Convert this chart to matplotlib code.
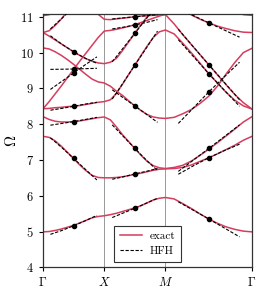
import numpy as np
import matplotlib
matplotlib.use("Agg")
import matplotlib.pyplot as plt

plt.rcParams['font.family'] = 'serif'
plt.rcParams['font.serif'] = ['cmr10', 'DejaVu Serif']
plt.rcParams['mathtext.fontset'] = 'cm'
plt.rcParams['axes.formatter.use_mathtext'] = True

NAN = np.nan
RED = '#d63c5e'

# path coordinate: Gamma-X (1), X-M (1), M-Gamma (sqrt 2)
k_gx = np.linspace(0, 1, 11)
k_xm = np.linspace(1, 2, 11)[1:]
k_mg = np.linspace(2, 2 + np.sqrt(2), 11)[1:]
k = np.concatenate([k_gx, k_xm, k_mg])

tick_pos = [0, 1, 2, 2 + np.sqrt(2)]
tick_lab = [r'$\Gamma$', r'$X$', r'$M$', r'$\Gamma$']

# exact bands (Gamma-X, X-M, M-Gamma)
band_1 = [4.99, 5.00, 5.03, 5.07, 5.12, 5.17, 5.24, 5.31, 5.38, 5.42, 5.44,
          5.47, 5.51, 5.56, 5.61, 5.66, 5.72, 5.80, 5.88, 5.93, 5.95,
          5.91, 5.78, 5.64, 5.49, 5.35, 5.23, 5.13, 5.06, 5.01, 4.99]
band_h = [7.66, 7.63, 7.53, 7.38, 7.21, 7.04, 6.86, 6.70, 6.57, 6.51, 6.50,
          6.50, 6.51, 6.53, 6.56, 6.60, 6.63, 6.67, 6.71, 6.74, 6.75,
          6.76, 6.79, 6.86, 6.96, 7.06, 7.17, 7.29, 7.41, 7.55, 7.66]
band_g = [8.21, 8.13, 8.08, 8.06, 8.06, 8.07, 8.09, 8.12, 8.15, 8.18, 8.20,
          8.12, 7.92, 7.70, 7.51, 7.32, 7.13, 6.96, 6.84, 6.78, 6.76,
          6.79, 6.85, 6.97, 7.13, 7.30, 7.48, 7.67, 7.86, 8.06, 8.21]
band_f = [8.43, 8.44, 8.46, 8.47, 8.49, 8.50, 8.52, 8.55, 8.58, 8.61, 8.63,
          8.68, 8.86, 9.12, 9.39, 9.65, 9.92, 10.18, 10.42, 10.58, 10.63,
          10.52, 10.26, 9.99, 9.70, 9.41, 9.15, 8.89, 8.67, 8.51, 8.42]
band_e = [8.43, 8.63, 8.85, 9.07, 9.30, 9.53, 9.76, 9.98, 10.20, 10.42, 10.60,
          10.62, 10.65, 10.69, 10.73, 10.78, 10.84, 10.90, 10.96, 11.02, 11.07,
          11.15, 11.30, NAN, NAN, NAN, NAN, NAN, NAN, NAN, NAN]
band_d = [10.13, 10.10, 10.02, 9.92, 9.80, 9.67, 9.53, 9.39, 9.26, 9.18, 9.15,
          9.06, 8.92, 8.80, 8.65, 8.51, 8.38, 8.27, 8.20, 8.17, 8.16,
          8.19, 8.29, 8.41, 8.58, 8.78, 9.06, 9.40, 9.72, 10.00, 10.12]
band_c = [10.56, 10.46, 10.35, 10.24, 10.13, 10.02, 9.92, 9.83, 9.76, 9.71, 9.69,
          9.73, 9.84, 10.06, 10.30, 10.54, 10.78, 11.00, 11.22, 11.40, 11.50,
          11.42, 11.25, 11.05, 10.93, 10.83, 10.74, 10.67, 10.61, 10.57, 10.56]
band_c2 = [10.56, 10.61, 10.76, 10.94, 11.15, NAN, NAN, NAN, NAN, NAN, NAN,
           NAN, NAN, NAN, NAN, NAN, NAN, NAN, NAN, NAN, NAN,
           NAN, NAN, NAN, NAN, NAN, NAN, NAN, NAN, NAN, NAN]
band_a = [NAN, NAN, NAN, NAN, NAN, NAN, NAN, NAN, 11.35, 11.07, 10.93,
          10.92, 10.94, 10.96, 10.98, 11.00, 11.02, 11.03, 11.04, 11.05, 11.06,
          10.80, 10.50, 10.22, 9.94, 9.66, 9.38, 9.10, 8.83, 8.60, 8.42]
band_t = [11.03, 11.06, 11.12, 11.20, NAN, NAN, NAN, NAN, NAN, NAN, NAN,
          NAN, NAN, NAN, NAN, NAN, NAN, NAN, NAN, NAN, NAN,
          NAN, NAN, NAN, NAN, NAN, NAN, NAN, 11.15, 11.06, 11.04]
exact_bands = [band_1, band_h, band_g, band_f, band_e, band_d,
               band_c, band_c2, band_a, band_t]

# HFH asymptotics about the midpoints of each leg
k_hfh_gx = [0.12, 0.31, 0.5, 0.69, 0.88]
k_hfh_xm = [1.13, 1.315, 1.5, 1.685, 1.87]
k_hfh_mg = [2.21, 2.46, 2 + np.sqrt(2) / 2, 2.96, 3.21]

hfh_gx = [[4.92, 5.03, 5.16, 5.30, 5.45],
          [7.62, 7.34, 7.04, 6.74, 6.44],
          [7.97, 8.02, 8.07, 8.13, 8.19],
          [8.39, 8.44, 8.50, 8.56, 8.61],
          [8.97, 9.20, 9.43, 9.66, 9.88],
          [9.53, 9.535, 9.54, 9.55, 9.56],
          [10.47, 10.23, 10.02, 9.84, 9.70],
          [10.66, 10.96, 11.27, 11.58, 11.88]]
hfh_xm = [[5.39, 5.52, 5.65, 5.79, 5.93],
          [6.46, 6.53, 6.61, 6.68, 6.76],
          [7.98, 7.65, 7.32, 7.00, 6.70],
          [8.96, 8.73, 8.51, 8.28, 8.05],
          [8.70, 9.17, 9.65, 10.12, 10.60],
          [9.74, 10.14, 10.54, 10.94, 11.34],
          [10.66, 10.71, 10.77, 10.84, 10.92],
          [10.94, 10.97, 11.00, 11.03, 11.06]]
hfh_mg = [[5.83, 5.59, 5.35, 5.10, 4.85],
          [6.60, 6.84, 7.06, 7.26, 7.44],
          [6.68, 7.00, 7.32, 7.65, 7.98],
          [8.02, 8.46, 8.90, 9.32, 9.73],
          [10.36, 9.88, 9.41, 8.95, 8.50],
          [10.65, 10.15, 9.66, 9.17, 8.68],
          [11.23, 11.03, 10.83, 10.63, 10.43]]


def main():
    fig = plt.figure(figsize=(2.69, 2.96), dpi=100)
    ax = fig.add_axes([0.16, 0.097, 0.777, 0.856])

    for xv in tick_pos[1:3]:
        ax.axvline(xv, color='#999999', lw=0.7, zorder=1)

    for i, b in enumerate(exact_bands):
        ax.plot(k, b, color=RED, lw=1.1, zorder=2,
                label='exact' if i == 0 else None)

    first = True
    for kk, group in [(k_hfh_gx, hfh_gx), (k_hfh_xm, hfh_xm), (k_hfh_mg, hfh_mg)]:
        for h in group:
            ax.plot(kk, h, color='black', lw=0.8, ls=(0, (3, 1.5)), zorder=3,
                    label='HFH' if first else None)
            ax.plot(kk[2], h[2], 'o', color='black', ms=3, zorder=4)
            first = False

    ax.set_xlim(0, 2 + np.sqrt(2))
    ax.set_ylim(4, 11.08)
    ax.set_xticks(tick_pos)
    ax.set_xticklabels(tick_lab)
    ax.set_yticks([4, 5, 6, 7, 8, 9, 10, 11])
    ax.set_ylabel(r'$\Omega$', fontsize=11, labelpad=1)
    ax.tick_params(labelsize=9, length=3, width=0.8, direction='out')
    for s in ax.spines.values():
        s.set_linewidth(0.9)
        s.set_color('#333333')

    leg = ax.legend(loc='lower center', fontsize=8, fancybox=False,
                    edgecolor='#333333', framealpha=1, handlelength=2.0,
                    borderpad=0.5, labelspacing=0.5, handletextpad=0.7)
    leg.get_frame().set_linewidth(0.8)

    fig.savefig('out.png', dpi=100)


if __name__ == '__main__':
    main()
